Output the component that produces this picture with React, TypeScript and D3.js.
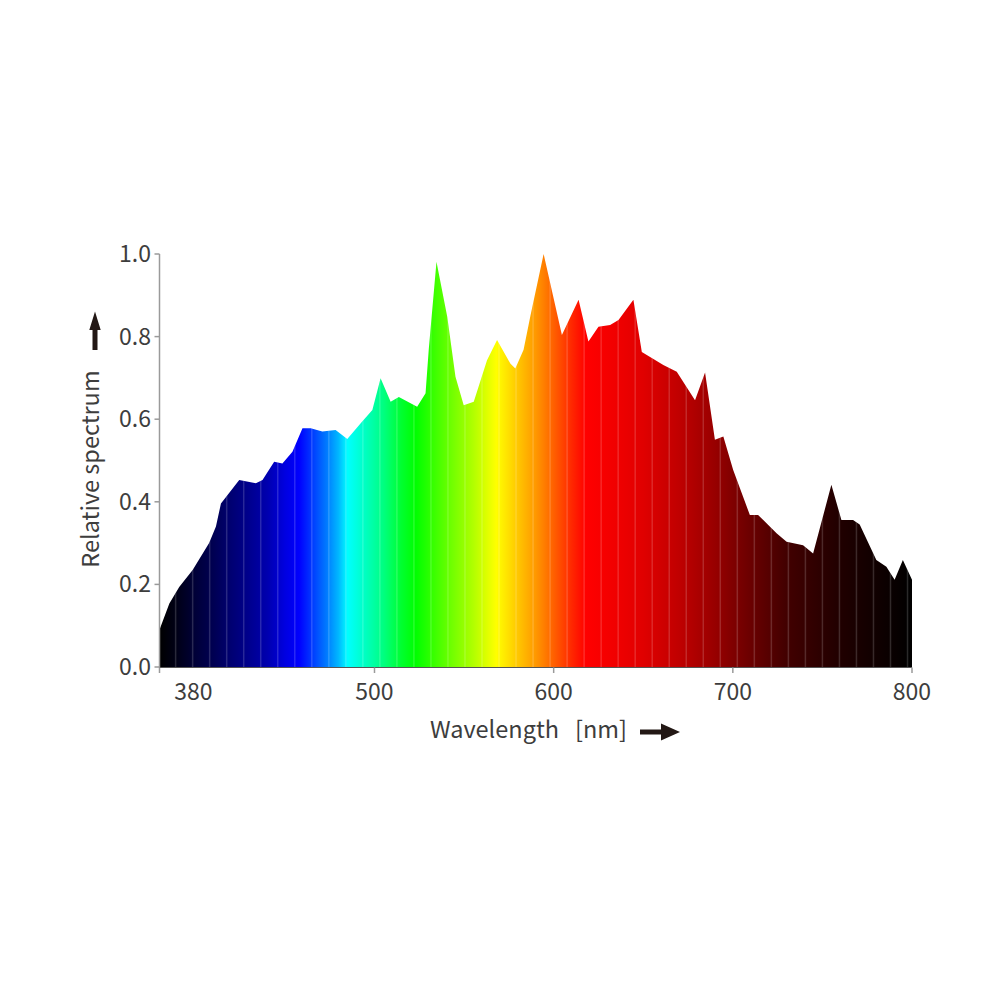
import React from 'react';
import * as d3 from 'd3';

const wavelengths = [380, 385.5, 391, 398.5, 407.7, 411.5, 414.3, 424.5, 433.8, 437.5, 444, 448.6, 454.2, 459.8, 464.4, 470.9, 478.3, 484.8, 492.3, 498.8, 503.4, 509, 513.6, 523.8, 528.5, 530.3, 534.6, 540.6, 545.2, 549.8, 555.4, 562.8, 568.4, 575.8, 578.6, 583.2, 587, 594.4, 604.6, 613.9, 619.4, 625, 631.5, 636.2, 644.5, 649.2, 661.2, 668.7, 678.9, 684.5, 690, 694.7, 700.2, 709.5, 714.1, 724.4, 730, 739.2, 744.8, 755, 760.6, 767.1, 770.8, 780.1, 785.7, 790.3, 794.9, 800];
const relativeSpectrum = [0.09, 0.154, 0.194, 0.235, 0.3, 0.34, 0.396, 0.453, 0.445, 0.453, 0.497, 0.493, 0.521, 0.578, 0.578, 0.57, 0.574, 0.552, 0.59, 0.622, 0.699, 0.642, 0.654, 0.63, 0.663, 0.77, 0.981, 0.848, 0.703, 0.634, 0.642, 0.743, 0.792, 0.735, 0.723, 0.768, 0.85, 1.0, 0.804, 0.889, 0.788, 0.824, 0.828, 0.84, 0.889, 0.763, 0.731, 0.715, 0.646, 0.713, 0.55, 0.558, 0.477, 0.368, 0.368, 0.324, 0.303, 0.295, 0.275, 0.441, 0.356, 0.356, 0.345, 0.259, 0.243, 0.211, 0.259, 0.211];

const colorStopWavelengths = [380, 390, 400, 410, 420, 430, 440, 450, 458, 466, 474, 480, 485, 495, 505, 515, 523, 540, 555, 568, 578, 590, 600, 610, 618, 635, 650, 670, 690, 700, 715, 730, 760, 780, 800];
const colorStopColors = ['#000000', '#000018', '#000038', '#000052', '#000072', '#00008e', '#0000ae', '#0000e0', '#0000ff', '#0040ff', '#0080ff', '#00b8ff', '#00ffff', '#00ffc0', '#00ff80', '#00ff30', '#00ff00', '#60ff00', '#b0ff00', '#ffff00', '#ffd000', '#ff9800', '#ff6000', '#ff2800', '#ff0000', '#f00000', '#e00000', '#c00000', '#980000', '#800000', '#600000', '#420000', '#200000', '#100000', '#000000'];

const xTickValues = [380, 500, 600, 700, 800];
const xTickLabels = ['380', '500', '600', '700', '800'];
const yTickValues = [0, 0.2, 0.4, 0.6, 0.8, 1.0];

const FONT = '"Noto Sans CJK SC", "Noto Sans", sans-serif';

export default function App() {
  const x = d3.scaleLinear().domain([380, 800]).range([159.5, 912]);
  const y = d3.scaleLinear().domain([0, 1]).range([667, 254]);
  const points = wavelengths.map((w, i) => [w, relativeSpectrum[i]] as [number, number]);
  const area = d3.area<[number, number]>()
    .x(d => x(d[0]))
    .y0(y(0))
    .y1(d => y(d[1]))
    .curve(d3.curveLinear);
  const areaPath = area(points) || '';
  const stripes = d3.range(389, 800, 9.5);
  const textColor = '#3d3d3d';
  const axisColor = '#9a9a9a';

  return (
    <svg width={1000} height={1000} style={{ position: 'absolute', left: 0, top: 0, background: '#fff' }}>
      <defs>
        <linearGradient id="spec" gradientUnits="userSpaceOnUse" x1={x(380)} x2={x(800)} y1={0} y2={0}>
          {colorStopWavelengths.map((w, i) => (
            <stop key={i} offset={(w - 380) / 420} stopColor={colorStopColors[i]} />
          ))}
        </linearGradient>
        <clipPath id="areaClip">
          <path d={areaPath} />
        </clipPath>
      </defs>
      <path d={areaPath} fill="url(#spec)" />
      <g clipPath="url(#areaClip)">
        {stripes.map((w, i) => (
          <line key={i} x1={x(w)} x2={x(w)} y1={y(0)} y2={y(1.05)} stroke="#ffffff" strokeOpacity={0.16} strokeWidth={1.5} />
        ))}
      </g>
      {/* Y axis */}
      <line x1={159.5} x2={159.5} y1={y(1)} y2={y(0) + 0.5} stroke={axisColor} strokeWidth={1.5} />
      {yTickValues.map((v, i) => (
        <g key={i}>
          <line x1={154.5} x2={159.5} y1={y(v)} y2={y(v)} stroke={axisColor} strokeWidth={1.5} />
          <text x={151} y={y(v)} dy="0.35em" textAnchor="end" fontFamily={FONT} fontSize={23} fill={textColor}>
            {d3.format('.1f')(v)}
          </text>
        </g>
      ))}
      {/* X axis */}
      <line x1={159.5} x2={912} y1={667.5} y2={667.5} stroke="#555" strokeWidth={1} />
      {xTickValues.map((v, i) => (
        <g key={i}>
          <line x1={x(v)} x2={x(v)} y1={667.5} y2={673} stroke={axisColor} strokeWidth={1.5} />
          <text x={x(v) + (i === 0 ? 34 : 0)} y={700} textAnchor="middle" fontFamily={FONT} fontSize={23} fill={textColor}>
            {xTickLabels[i]}
          </text>
        </g>
      ))}
      {/* X title */}
      <text x={430} y={738} fontFamily={FONT} fontSize={23.5} fill={textColor}>Wavelength</text>
      <text x={575} y={738} fontFamily={FONT} fontSize={23.5} fill={textColor}>[nm]</text>
      <path d="M640,729.5 L661,729.5 L661,723.5 L680,732 L661,740.5 L661,734.5 L640,734.5 Z" fill="#231815" />
      {/* Y title */}
      <text transform="translate(99,469) rotate(-90)" textAnchor="middle" fontFamily={FONT} fontSize={23.5} fill={textColor}>Relative spectrum</text>
      <path d="M92.5,350 L92.5,330 L89.3,330 L95,311.5 L100.7,330 L97.5,330 L97.5,350 Z" fill="#231815" />
    </svg>
  );
}
